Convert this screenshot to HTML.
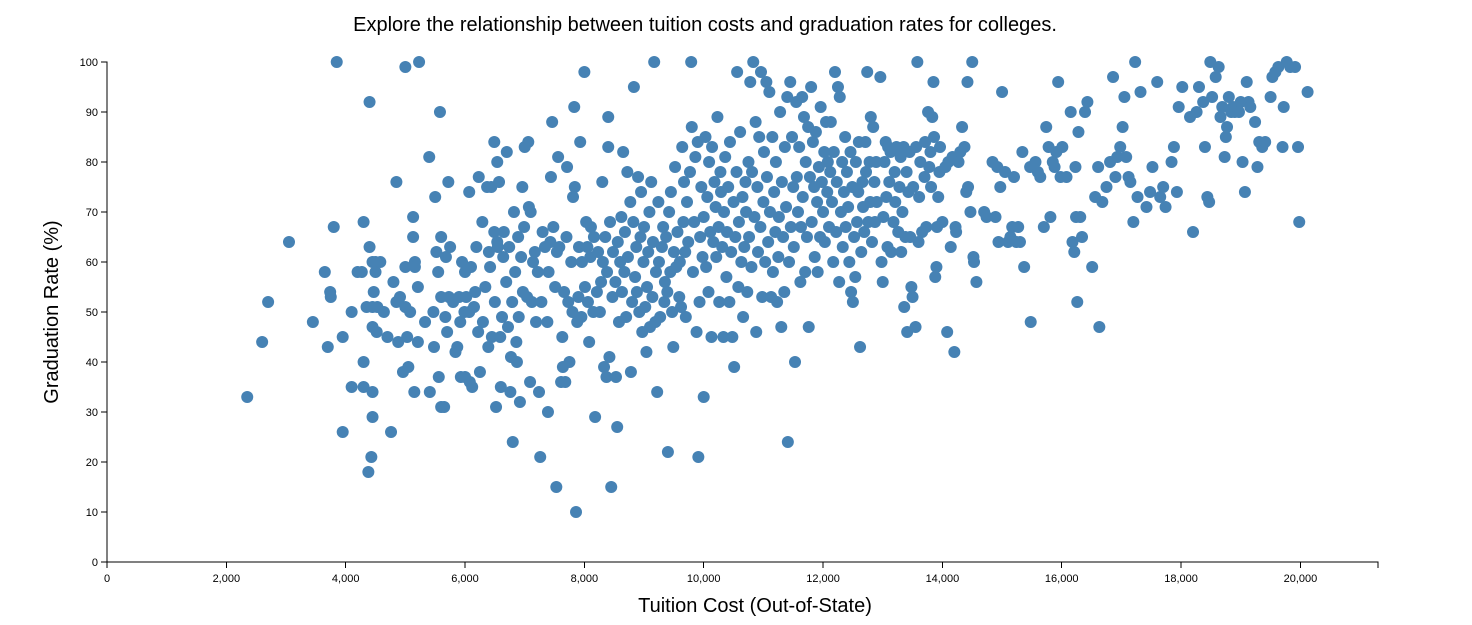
<!DOCTYPE html>
<html>
<head>
<meta charset="utf-8">
<style>
html,body{margin:0;padding:0;background:#fff;}
svg{display:block;font-family:"Liberation Sans",Arial,sans-serif;}
</style>
</head>
<body>
<svg id="chart" width="1472" height="625" viewBox="0 0 1472 625">
<text x="705" y="31" text-anchor="middle" font-size="20" fill="#000">Explore the relationship between tuition costs and graduation rates for colleges.</text>
<g id="xaxis"></g>
<g id="yaxis"></g>
<g id="points"></g>
<text x="755" y="612" text-anchor="middle" font-size="20" fill="#000">Tuition Cost (Out-of-State)</text>
<text transform="translate(58,312) rotate(-90)" text-anchor="middle" font-size="20" fill="#000">Graduation Rate (%)</text>
</svg>
<script>
const xTicks=[0,2000,4000,6000,8000,10000,12000,14000,16000,18000,20000];
const yTicks=[0,10,20,30,40,50,60,70,80,90,100];
const tuitionK=[2.35,2.6,2.7,3.05,3.45,3.65,3.7,3.74,3.75,3.8,3.85,3.95,3.95,4.1,4.1,4.2,4.27,4.3,4.3,4.3,4.35,4.38,4.4,4.4,4.43,4.45,4.45,4.45,4.45,4.45,4.47,4.5,4.5,4.52,4.53,4.58,4.64,4.7,4.76,4.8,4.85,4.85,4.88,4.91,4.96,5.0,5.0,5.0,5.03,5.05,5.08,5.13,5.13,5.15,5.16,5.16,5.23,5.21,5.21,5.33,5.4,5.41,5.47,5.48,5.5,5.52,5.55,5.56,5.58,5.6,5.6,5.6,5.65,5.67,5.68,5.7,5.72,5.73,5.75,5.8,5.84,5.87,5.9,5.92,5.93,5.95,5.99,6.0,6.0,6.02,6.07,6.07,6.08,6.1,6.12,6.15,6.17,6.19,6.22,6.23,6.25,6.29,6.3,6.34,6.37,6.39,6.4,6.42,6.44,6.45,6.49,6.49,6.5,6.52,6.54,6.54,6.55,6.57,6.59,6.6,6.62,6.64,6.65,6.69,6.7,6.72,6.74,6.76,6.77,6.79,6.8,6.82,6.84,6.86,6.87,6.89,6.9,6.92,6.94,6.96,6.97,6.99,7.0,7.04,7.06,7.07,7.09,7.1,7.12,7.14,7.17,7.19,7.22,7.24,7.26,7.28,7.3,7.34,7.38,7.39,7.4,7.43,7.44,7.46,7.48,7.51,7.53,7.54,7.56,7.58,7.61,7.63,7.64,7.66,7.68,7.7,7.71,7.73,7.75,7.78,7.8,7.81,7.83,7.84,7.86,7.88,7.9,7.91,7.93,7.95,7.96,8.0,8.01,8.03,8.05,8.06,8.08,8.1,8.11,8.15,8.16,8.18,8.21,8.23,8.26,8.28,8.3,8.31,8.33,8.35,8.37,8.38,8.4,8.4,8.42,8.43,8.45,8.47,8.48,8.52,8.53,8.55,8.56,8.58,8.6,8.62,8.63,8.65,8.67,8.68,8.7,8.72,8.73,8.77,8.78,8.8,8.82,8.83,8.85,8.87,8.88,8.9,8.92,8.94,8.95,8.97,8.99,9.0,9.02,9.04,9.05,9.07,9.09,9.1,9.12,9.14,9.15,9.17,9.19,9.2,9.22,9.24,9.25,9.27,9.3,9.32,9.34,9.35,9.37,9.39,9.4,9.42,9.44,9.45,9.47,9.49,9.5,9.52,9.54,9.56,9.59,9.6,9.62,9.64,9.66,9.67,9.69,9.7,9.72,9.74,9.77,9.79,9.8,9.82,9.84,9.86,9.88,9.9,9.91,9.93,9.94,9.96,9.98,10.0,10.0,10.03,10.04,10.06,10.08,10.09,10.11,10.13,10.14,10.16,10.18,10.2,10.21,10.23,10.25,10.26,10.28,10.29,10.31,10.33,10.34,10.36,10.38,10.39,10.41,10.43,10.44,10.46,10.48,10.5,10.51,10.53,10.55,10.56,10.58,10.59,10.61,10.63,10.65,10.66,10.68,10.7,10.71,10.73,10.75,10.76,10.78,10.8,10.81,10.83,10.85,10.87,10.88,10.9,10.91,10.93,10.95,10.96,10.98,11.0,11.01,11.03,11.05,11.06,11.08,11.1,11.11,11.13,11.15,11.16,11.18,11.2,11.21,11.23,11.25,11.26,11.28,11.3,11.31,11.33,11.35,11.36,11.38,11.4,11.41,11.43,11.45,11.46,11.48,11.5,11.51,11.53,11.55,11.56,11.58,11.6,11.62,11.63,11.65,11.66,11.68,11.7,11.71,11.73,11.75,11.76,11.78,11.8,11.81,11.83,11.85,11.86,11.88,11.9,11.91,11.93,11.95,11.96,11.98,12.0,12.02,12.03,12.05,12.07,12.08,12.1,12.12,12.13,12.15,12.17,12.18,12.2,12.22,12.23,12.25,12.27,12.28,12.3,12.32,12.33,12.35,12.37,12.38,12.4,12.42,12.44,12.46,12.47,12.49,12.5,12.52,12.54,12.55,12.57,12.59,12.6,12.62,12.64,12.66,12.67,12.69,12.71,12.72,12.74,12.76,12.78,12.79,12.8,12.82,12.84,12.86,12.87,12.89,12.9,12.96,12.98,13.0,13.01,13.03,13.05,13.06,13.08,13.09,13.11,13.13,13.14,13.18,13.2,13.21,13.23,13.26,13.28,13.3,13.31,13.33,13.35,13.36,13.38,13.4,13.41,13.43,13.45,13.46,13.48,13.5,13.51,13.55,13.56,13.58,13.6,13.61,13.63,13.66,13.7,13.71,13.73,13.76,13.78,13.8,13.81,13.83,13.85,13.86,13.88,13.9,13.91,13.93,13.95,13.96,14.0,14.05,14.08,14.1,14.14,14.17,14.2,14.22,14.23,14.27,14.3,14.33,14.37,14.4,14.42,14.43,14.47,14.5,14.52,14.53,14.57,14.7,14.74,14.84,14.89,14.92,14.94,14.97,15.0,15.05,15.1,15.14,15.17,15.2,15.24,15.27,15.3,15.34,15.37,15.47,15.48,15.56,15.6,15.64,15.7,15.74,15.78,15.81,15.85,15.88,15.91,15.94,15.98,16.01,16.08,16.15,16.18,16.21,16.23,16.24,16.26,16.28,16.31,16.34,16.39,16.43,16.51,16.56,16.61,16.63,16.68,16.75,16.81,16.86,16.9,16.93,16.98,17.02,17.05,17.08,17.12,17.15,17.2,17.23,17.27,17.32,17.42,17.48,17.52,17.6,17.65,17.7,17.74,17.84,17.88,17.93,17.96,18.02,18.15,18.2,18.26,18.3,18.37,18.4,18.44,18.47,18.49,18.52,18.58,18.63,18.66,18.69,18.73,18.75,18.77,18.8,18.84,18.87,18.9,18.93,18.97,19.0,19.03,19.07,19.1,19.13,19.16,19.24,19.28,19.31,19.36,19.41,19.5,19.53,19.58,19.63,19.7,19.72,19.77,19.83,19.91,19.96,19.98,20.12];
const gradRate=[33,44,52,64,48,58,43,54,53,67,100,45,26,50,35,58,58,68,40,35,51,18,92,63,21,60,51,47,34,29,54,58,60,46,51,60,50,45,26,56,76,52,44,53,38,99,59,51,45,39,50,69,65,34,60,59,100,55,44,48,81,34,50,43,73,62,58,37,90,65,53,31,31,49,61,46,76,53,63,52,42,43,53,48,37,60,50,58,37,53,74,50,36,59,35,51,54,63,46,77,38,68,48,55,75,43,62,59,75,45,84,66,52,31,80,64,63,76,45,35,49,61,66,56,82,47,63,34,41,52,24,70,58,44,40,65,49,32,61,75,54,67,83,53,84,71,36,70,52,60,62,48,58,34,21,52,66,63,48,30,58,64,77,88,67,55,15,62,81,63,36,45,39,54,36,65,79,52,40,60,50,73,91,75,10,48,53,63,84,49,60,98,55,68,63,52,44,61,67,50,65,29,54,62,50,56,76,60,39,65,37,58,89,83,41,68,15,53,62,56,37,27,64,48,60,69,54,82,58,66,49,78,61,72,38,52,68,95,57,63,54,77,50,65,74,46,60,67,51,42,55,62,70,47,76,53,64,100,48,58,34,72,60,49,63,67,52,56,65,54,22,70,58,74,50,43,62,79,59,66,53,60,51,83,68,76,62,49,72,64,78,100,87,58,68,81,46,84,21,52,65,75,61,33,69,85,59,73,54,80,66,45,83,64,76,71,61,89,67,52,78,74,63,45,70,81,57,66,75,52,84,62,45,72,39,65,78,98,55,68,86,60,73,49,63,76,70,54,80,65,96,59,78,100,69,88,46,75,62,85,67,98,53,72,82,60,96,77,64,94,70,53,85,58,74,66,80,52,61,69,90,47,76,65,54,83,71,93,24,60,96,67,85,75,63,40,92,77,70,83,56,67,93,73,89,58,80,65,87,47,77,95,68,84,75,61,86,72,58,79,65,91,76,70,82,64,88,74,80,67,78,88,72,60,82,98,66,76,95,56,93,70,80,63,74,85,67,78,71,60,82,54,75,52,65,57,80,68,74,84,43,62,76,71,66,84,78,98,68,80,72,89,64,87,76,68,80,72,97,60,56,69,80,84,73,63,83,76,82,62,68,78,72,83,66,75,81,62,70,83,51,65,78,46,74,82,65,55,53,75,47,83,100,64,73,80,66,77,84,67,90,79,82,75,89,96,85,57,59,67,73,78,83,68,79,46,80,63,81,42,67,66,80,82,87,83,74,96,75,70,100,61,60,56,70,69,80,69,79,64,75,94,78,64,65,67,77,64,67,64,82,59,79,48,80,78,77,67,87,83,69,80,79,82,96,77,83,77,90,64,62,79,69,52,86,69,65,90,92,59,73,79,47,72,75,80,97,77,81,83,87,93,81,77,76,68,100,73,94,71,74,79,96,73,75,71,80,83,74,91,95,89,66,90,95,92,83,73,72,100,93,97,99,89,91,81,85,87,93,90,91,90,91,90,92,80,74,96,92,91,88,79,84,83,84,93,97,98,99,83,91,100,99,99,83,68,94];
const X0=107,X1=1378,Y0=562,Y1=62;
const xScale=v=>X0+(v/21300)*(X1-X0);
const yScale=v=>Y0-(v/100)*(Y0-Y1);
const NS='http://www.w3.org/2000/svg';
function mk(tag,attrs,parent){const e=document.createElementNS(NS,tag);for(const k in attrs)e.setAttribute(k,attrs[k]);parent.appendChild(e);return e;}
const xa=document.getElementById('xaxis'),ya=document.getElementById('yaxis'),pg=document.getElementById('points');
mk('path',{d:`M${X0},${Y0+6}V${Y0}H${X1}V${Y0+6}`,stroke:'#000',fill:'none','shape-rendering':'crispEdges'},xa);
xTicks.forEach(t=>{
  const x=xScale(t);
  const l=mk('line',{x1:x,x2:x,y1:Y0,y2:Y0+6,stroke:'#000','shape-rendering':'crispEdges'},xa);
  
  
  const tx=mk('text',{x:x,y:Y0+20,'text-anchor':'middle','font-size':'11',fill:'#000'},xa);
  tx.textContent=t.toLocaleString('en-US');
  
  
});
mk('path',{d:`M${X0-6},${Y1}H${X0}V${Y0}H${X0-6}`,stroke:'#000',fill:'none','shape-rendering':'crispEdges'},ya);
yTicks.forEach(t=>{
  const y=yScale(t);
  const l=mk('line',{x1:X0-6,x2:X0,y1:y,y2:y,stroke:'#000','shape-rendering':'crispEdges'},ya);
  
  
  const tx=mk('text',{x:X0-9,y:y+4,'text-anchor':'end','font-size':'11',fill:'#000'},ya);
  tx.textContent=t;
  
  
});
const n=Math.min(tuitionK.length,gradRate.length);
for(let i=0;i<n;i++){
  const c=mk('circle',{cx:xScale(tuitionK[i]*1000),cy:yScale(gradRate[i]),r:6,fill:'steelblue'},pg);
  
  
}
</script>
</body>
</html>
